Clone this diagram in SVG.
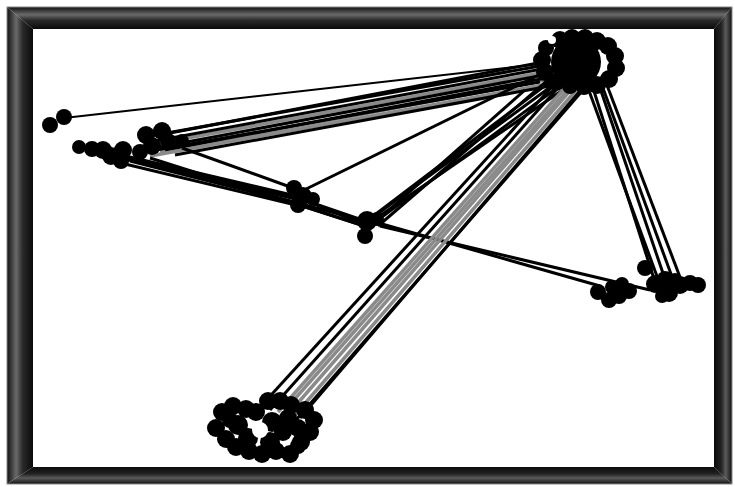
<svg xmlns="http://www.w3.org/2000/svg" width="735" height="487" viewBox="0 0 735 487">
<defs>
<linearGradient id="gT" x1="0" y1="0" x2="0" y2="1"><stop offset="0" stop-color="#111"/><stop offset="0.35" stop-color="#6a6a6a"/><stop offset="0.6" stop-color="#2a2a2a"/><stop offset="1" stop-color="#0a0a0a"/></linearGradient>
<linearGradient id="gB" x1="0" y1="1" x2="0" y2="0"><stop offset="0" stop-color="#111"/><stop offset="0.35" stop-color="#5a5a5a"/><stop offset="0.6" stop-color="#222"/><stop offset="1" stop-color="#0a0a0a"/></linearGradient>
<linearGradient id="gL" x1="0" y1="0" x2="1" y2="0"><stop offset="0" stop-color="#111"/><stop offset="0.35" stop-color="#6a6a6a"/><stop offset="0.6" stop-color="#2a2a2a"/><stop offset="1" stop-color="#0a0a0a"/></linearGradient>
<linearGradient id="gR" x1="1" y1="0" x2="0" y2="0"><stop offset="0" stop-color="#111"/><stop offset="0.35" stop-color="#5a5a5a"/><stop offset="0.6" stop-color="#222"/><stop offset="1" stop-color="#0a0a0a"/></linearGradient>
</defs>
<style>
.e{stroke:#000;stroke-width:3;fill:none}
.t{stroke:#000;stroke-width:2;fill:none}
.g{stroke:#8a8a8a;stroke-width:3.5;fill:none}
.n circle{fill:#000}
</style>
<rect x="0" y="0" width="735" height="487" fill="#fff"/>
<g id="frame">
<rect x="33" y="29" width="681" height="438" fill="#fff"/>
<polygon points="7,7 732,7 714,29 33,29" fill="url(#gT)"/>
<polygon points="7,484 732,484 714,467 33,467" fill="url(#gB)"/>
<polygon points="7,7 33,29 33,467 7,484" fill="url(#gL)"/>
<polygon points="732,7 714,29 714,467 732,484" fill="url(#gR)"/>
<rect x="7" y="7" width="725" height="477" fill="none" stroke="#888" stroke-width="1"/>
</g>
<g id="edges">
<line class="t" x1="64" y1="118" x2="540" y2="64"/>
<line class="e" x1="170" y1="133" x2="538" y2="63"/>
<line class="e" x1="150" y1="136" x2="540" y2="66"/>
<line class="g" x1="155" y1="144" x2="540" y2="73"/>
<line class="e" x1="155" y1="141" x2="542" y2="69"/>
<line class="e" x1="160" y1="147" x2="544" y2="75"/>
<line class="g" x1="160" y1="152" x2="545" y2="80"/>
<line class="e" x1="165" y1="150" x2="546" y2="78"/>
<line class="e" x1="145" y1="152" x2="540" y2="82"/>
<line class="g" x1="150" y1="156" x2="548" y2="84"/>
<line class="e" x1="175" y1="155" x2="550" y2="86"/>
<line class="e" x1="100" y1="150" x2="292" y2="195"/>
<line class="e" x1="110" y1="155" x2="298" y2="198"/>
<line class="e" x1="120" y1="158" x2="300" y2="200"/>
<line class="e" x1="130" y1="161" x2="296" y2="203"/>
<line class="e" x1="125" y1="164" x2="300" y2="206"/>
<line class="e" x1="140" y1="160" x2="368" y2="222"/>
<line class="e" x1="150" y1="158" x2="365" y2="226"/>
<line class="e" x1="182" y1="148" x2="293" y2="188"/>
<line class="e" x1="298" y1="198" x2="368" y2="222"/>
<line class="e" x1="305" y1="200" x2="365" y2="225"/>
<line class="e" x1="300" y1="205" x2="370" y2="228"/>
<line class="e" x1="300" y1="192" x2="545" y2="72"/>
<line class="e" x1="368" y1="220" x2="555" y2="78"/>
<line class="e" x1="372" y1="218" x2="560" y2="80"/>
<line class="e" x1="375" y1="222" x2="565" y2="82"/>
<line class="e" x1="378" y1="226" x2="548" y2="80"/>
<line class="e" x1="365" y1="226" x2="570" y2="85"/>
<line class="e" x1="380" y1="218" x2="525" y2="90"/>
<line class="e" x1="375" y1="222" x2="600" y2="286"/>
<line class="e" x1="380" y1="226" x2="650" y2="290"/>
<line class="e" x1="560" y1="78" x2="262" y2="405"/>
<line class="e" x1="565" y1="80" x2="270" y2="410"/>
<line class="g" x1="570" y1="82" x2="278" y2="412"/>
<line class="g" x1="572" y1="85" x2="285" y2="410"/>
<line class="g" x1="575" y1="85" x2="290" y2="412"/>
<line class="g" x1="578" y1="88" x2="295" y2="415"/>
<line class="e" x1="585" y1="85" x2="300" y2="418"/>
<line class="e" x1="590" y1="82" x2="296" y2="420"/>
<line class="e" x1="588" y1="88" x2="662" y2="290"/>
<line class="e" x1="592" y1="85" x2="655" y2="282"/>
<line class="e" x1="598" y1="82" x2="668" y2="288"/>
<line class="e" x1="600" y1="80" x2="675" y2="285"/>
<line class="e" x1="605" y1="80" x2="683" y2="285"/>
</g>
<g id="hub" class="n">
<circle cx="576" cy="62" r="25"/>
<circle cx="560" cy="40" r="9"/><circle cx="572" cy="38" r="9"/><circle cx="585" cy="38" r="9"/><circle cx="597" cy="41" r="9"/>
<circle cx="608" cy="46" r="9"/><circle cx="615" cy="56" r="9"/><circle cx="616" cy="68" r="9"/><circle cx="609" cy="79" r="9"/>
<circle cx="597" cy="85" r="9"/><circle cx="584" cy="87" r="8"/><circle cx="570" cy="86" r="8"/><circle cx="556" cy="82" r="9"/>
<circle cx="545" cy="72" r="9"/><circle cx="542" cy="60" r="9"/><circle cx="546" cy="48" r="8"/>
<circle cx="552" cy="40" r="4" fill="#fff" style="fill:#fff"/>
</g>
<g id="left" class="n">
<circle cx="50" cy="125" r="8"/><circle cx="64" cy="117" r="8"/>
<circle cx="79" cy="147" r="7"/><circle cx="92" cy="149" r="8"/><circle cx="103" cy="150" r="9"/><circle cx="111" cy="156" r="9"/>
<circle cx="121" cy="161" r="8"/><circle cx="123" cy="150" r="9"/><circle cx="146" cy="135" r="9"/><circle cx="162" cy="131" r="9"/>
<circle cx="152" cy="146" r="9"/><circle cx="168" cy="141" r="8"/><circle cx="182" cy="141" r="7"/><circle cx="140" cy="152" r="8"/>
</g>
<g id="mid1" class="n">
<circle cx="294" cy="188" r="8"/><circle cx="303" cy="196" r="9"/><circle cx="313" cy="199" r="7"/><circle cx="298" cy="205" r="8"/>
</g>
<g id="mid2" class="n">
<circle cx="367" cy="221" r="10"/><circle cx="377" cy="219" r="7"/><circle cx="365" cy="236" r="8"/>
</g>
<g id="right" class="n">
<circle cx="645" cy="268" r="8"/><circle cx="598" cy="292" r="8"/><circle cx="609" cy="300" r="8"/><circle cx="619" cy="296" r="8"/>
<circle cx="629" cy="291" r="8"/><circle cx="612" cy="287" r="7"/><circle cx="622" cy="284" r="7"/><circle cx="655" cy="284" r="9"/>
<circle cx="665" cy="279" r="8"/><circle cx="669" cy="293" r="9"/><circle cx="680" cy="285" r="9"/><circle cx="690" cy="283" r="8"/>
<circle cx="698" cy="285" r="8"/><circle cx="662" cy="296" r="7"/><circle cx="675" cy="280" r="7"/>
</g>
<g id="bottom" class="n">
<circle cx="222" cy="412" r="9"/><circle cx="233" cy="406" r="9"/><circle cx="246" cy="409" r="9"/><circle cx="216" cy="428" r="9"/>
<circle cx="226" cy="439" r="9"/><circle cx="236" cy="447" r="9"/><circle cx="249" cy="451" r="9"/><circle cx="262" cy="454" r="9"/>
<circle cx="276" cy="451" r="9"/><circle cx="290" cy="454" r="9"/><circle cx="301" cy="442" r="9"/><circle cx="310" cy="432" r="9"/>
<circle cx="314" cy="420" r="9"/><circle cx="305" cy="410" r="9"/><circle cx="291" cy="405" r="9"/><circle cx="280" cy="401" r="9"/>
<circle cx="268" cy="401" r="9"/><circle cx="256" cy="412" r="9"/><circle cx="272" cy="422" r="10"/><circle cx="283" cy="432" r="9"/>
<circle cx="238" cy="425" r="10"/><circle cx="288" cy="418" r="9"/><circle cx="298" cy="446" r="8"/><circle cx="248" cy="438" r="10"/>
<circle cx="270" cy="442" r="10"/><circle cx="298" cy="428" r="9"/><circle cx="230" cy="420" r="8"/>
<circle cx="260" cy="430" r="8" style="fill:#fff"/>
</g>
</svg>
